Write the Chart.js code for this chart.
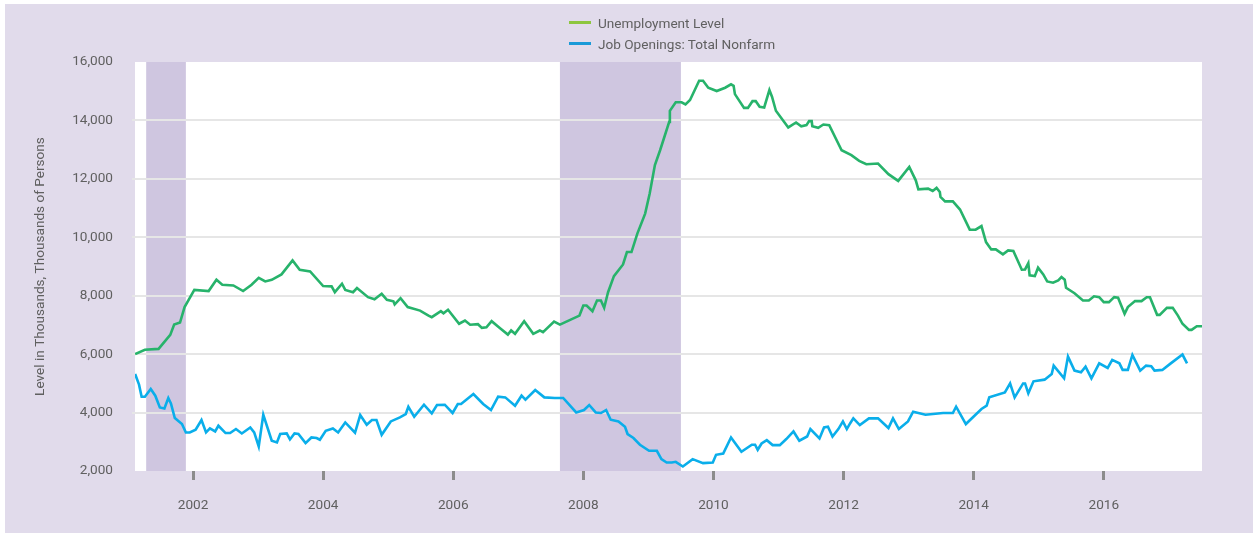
<!DOCTYPE html>
<html>
<head>
<meta charset="utf-8">
<script src="https://cdn.jsdelivr.net/npm/chart.js@4/dist/chart.umd.min.js"></script>
<style>
  body { margin: 0; background: #fff; font-family: Roboto, "Noto Sans", sans-serif; }
  #wrap { position: relative; width: 1253px; height: 535px; }
  #bg { position: absolute; left: 5px; top: 4px; width: 1248px; height: 529px; background: #e1dbeb; }
  #chart { position: absolute; left: 0; top: 0; }
  #legend { position: absolute; left: 569px; top: 12px; font-size: 13.6px; color: #606060; }
  #legend .item { height: 21px; display: flex; align-items: center; }
  #legend .swatch { width: 22px; height: 3px; margin-right: 7px; }
</style>
</head>
<body>
<div id="wrap">
  <div id="bg"></div>
  <canvas id="chart" width="1253" height="535"></canvas>
  <div id="legend"></div>
</div>
<script>
// dates are decimal years
var unempDates = [2001.11, 2001.26, 2001.47, 2001.65, 2001.71, 2001.80, 2001.87, 2002.02, 2002.24, 2002.36,
  2002.45, 2002.62, 2002.77, 2002.90, 2003.01, 2003.11, 2003.21, 2003.36, 2003.53, 2003.64,
  2003.80, 2004.00, 2004.13, 2004.18, 2004.29, 2004.34, 2004.46, 2004.52, 2004.69, 2004.79,
  2004.90, 2004.98, 2005.08, 2005.10, 2005.19, 2005.30, 2005.49, 2005.62, 2005.67, 2005.81,
  2005.85, 2005.92, 2006.09, 2006.18, 2006.26, 2006.38, 2006.44, 2006.51, 2006.59, 2006.72,
  2006.84, 2006.89, 2006.95, 2007.09, 2007.23, 2007.33, 2007.38, 2007.55, 2007.64, 2007.94,
  2008.00, 2008.05, 2008.14, 2008.21, 2008.27, 2008.32, 2008.38, 2008.47, 2008.61, 2008.67,
  2008.74, 2008.83, 2008.95, 2009.02, 2009.10, 2009.18, 2009.32, 2009.33, 2009.42, 2009.51,
  2009.57, 2009.64, 2009.78, 2009.84, 2009.92, 2010.05, 2010.18, 2010.27, 2010.31, 2010.33,
  2010.47, 2010.53, 2010.60, 2010.65, 2010.71, 2010.78, 2010.86, 2010.90, 2010.96, 2011.15,
  2011.27, 2011.35, 2011.43, 2011.47, 2011.51, 2011.52, 2011.61, 2011.69, 2011.78, 2011.97,
  2012.12, 2012.24, 2012.35, 2012.53, 2012.69, 2012.84, 2013.01, 2013.11, 2013.15, 2013.30,
  2013.37, 2013.43, 2013.48, 2013.49, 2013.56, 2013.68, 2013.79, 2013.94, 2014.03, 2014.12,
  2014.19, 2014.27, 2014.34, 2014.45, 2014.53, 2014.61, 2014.74, 2014.79, 2014.84, 2014.86,
  2014.94, 2014.99, 2015.07, 2015.13, 2015.22, 2015.30, 2015.35, 2015.40, 2015.42, 2015.55,
  2015.68, 2015.77, 2015.85, 2015.93, 2016.00, 2016.08, 2016.16, 2016.22, 2016.32, 2016.37,
  2016.48, 2016.58, 2016.66, 2016.71, 2016.82, 2016.86, 2016.97, 2017.06, 2017.14, 2017.21,
  2017.31, 2017.35, 2017.43, 2017.51];
var unempValues = [6000, 6150, 6180, 6660, 7010, 7080, 7610, 8200, 8160, 8545,
  8375, 8350, 8160, 8375, 8615, 8490, 8545, 8730, 9210, 8890,
  8830, 8330, 8320, 8120, 8410, 8200, 8120, 8260, 7950, 7880,
  8065, 7860, 7810, 7700, 7915, 7610, 7490, 7320, 7265, 7470,
  7400, 7520, 7040, 7150, 7005, 7025, 6900, 6920, 7130, 6890,
  6670, 6810, 6695, 7130, 6695, 6810, 6750, 7115, 7010, 7320,
  7665, 7665, 7470, 7835, 7835, 7585, 8120, 8670, 9070, 9495,
  9495, 10125, 10810, 11500, 12470, 12980, 13950, 14330, 14620, 14620,
  14550, 14700, 15360, 15360, 15120, 15005, 15120, 15235, 15185, 14900,
  14430, 14430, 14660, 14660, 14470, 14445, 15040, 14810, 14330, 13760,
  13930, 13800, 13840, 13975, 13975, 13800, 13745, 13860, 13840, 12980,
  12810, 12615, 12500, 12525, 12160, 11930, 12410, 11950, 11640, 11665,
  11585, 11690, 11550, 11380, 11230, 11230, 10950, 10260, 10260, 10385,
  9835, 9585, 9585, 9415, 9550, 9530, 8890, 8900, 9115, 8695,
  8670, 8960, 8730, 8490, 8445, 8525, 8640, 8545, 8270, 8085,
  7835, 7835, 7980, 7950, 7780, 7780, 7950, 7930, 7380, 7610,
  7815, 7815, 7950, 7950, 7345, 7345, 7585, 7585, 7320, 7040,
  6830, 6830, 6955, 6955];

var openDates = [2001.11, 2001.17, 2001.21, 2001.26, 2001.35, 2001.42, 2001.49, 2001.56, 2001.62, 2001.66,
  2001.72, 2001.83, 2001.89, 2001.95, 2002.04, 2002.13, 2002.20, 2002.26, 2002.34, 2002.39,
  2002.50, 2002.57, 2002.66, 2002.75, 2002.88, 2002.94, 2003.01, 2003.08, 2003.21, 2003.29,
  2003.34, 2003.44, 2003.49, 2003.56, 2003.62, 2003.73, 2003.82, 2003.90, 2003.95, 2004.04,
  2004.15, 2004.23, 2004.34, 2004.49, 2004.57, 2004.67, 2004.75, 2004.82, 2004.90, 2005.04,
  2005.18, 2005.27, 2005.31, 2005.40, 2005.55, 2005.67, 2005.75, 2005.87, 2005.99, 2006.07,
  2006.12, 2006.31, 2006.46, 2006.58, 2006.69, 2006.80, 2006.95, 2007.05, 2007.11, 2007.26,
  2007.40, 2007.56, 2007.69, 2007.89, 2008.01, 2008.09, 2008.19, 2008.27, 2008.35, 2008.42,
  2008.54, 2008.64, 2008.68, 2008.77, 2008.87, 2009.01, 2009.13, 2009.20, 2009.28, 2009.36,
  2009.42, 2009.53, 2009.68, 2009.84, 2009.99, 2010.04, 2010.15, 2010.27, 2010.43, 2010.59,
  2010.64, 2010.68, 2010.74, 2010.82, 2010.91, 2011.02, 2011.12, 2011.23, 2011.32, 2011.44,
  2011.49, 2011.63, 2011.70, 2011.76, 2011.83, 2011.92, 2011.99, 2012.05, 2012.10, 2012.15,
  2012.25, 2012.39, 2012.53, 2012.69, 2012.76, 2012.85, 2012.99, 2013.07, 2013.26, 2013.53,
  2013.68, 2013.73, 2013.88, 2014.12, 2014.20, 2014.24, 2014.48, 2014.56, 2014.63, 2014.76,
  2014.79, 2014.84, 2014.92, 2015.09, 2015.20, 2015.23, 2015.39, 2015.45, 2015.55, 2015.65,
  2015.72, 2015.81, 2015.93, 2016.06, 2016.13, 2016.24, 2016.29, 2016.37, 2016.44, 2016.56,
  2016.65, 2016.73, 2016.78, 2016.90, 2017.02, 2017.21, 2017.28];
var openValues = [5320, 4955, 4544, 4544, 4808, 4578, 4177, 4142, 4500, 4315,
  3813, 3607, 3320, 3320, 3412, 3745, 3320, 3457, 3354, 3549,
  3299, 3299, 3436, 3285, 3491, 3320, 2840, 3926, 3035, 2977,
  3265, 3285, 3080, 3285, 3265, 2956, 3148, 3128, 3069, 3378,
  3457, 3320, 3662, 3309, 3916, 3583, 3745, 3745, 3240, 3697,
  3834, 3950, 4200, 3858, 4269, 3971, 4259, 4269, 3985, 4293,
  4293, 4636, 4293, 4088, 4544, 4520, 4235, 4578, 4441, 4774,
  4520, 4500, 4500, 4005, 4088, 4259, 4005, 3985, 4088, 3755,
  3697, 3515, 3265, 3128, 2898, 2692, 2692, 2407, 2290, 2290,
  2314, 2153, 2407, 2270, 2290, 2554, 2599, 3148, 2657, 2898,
  2898, 2726, 2942, 3056, 2887, 2887, 3093, 3354, 3035, 3182,
  3436, 3114, 3491, 3515, 3182, 3436, 3697, 3436, 3628, 3800,
  3573, 3800, 3800, 3470, 3800, 3436, 3697, 4029, 3926, 3985,
  3985, 4200, 3607, 4122, 4235, 4520, 4691, 5000, 4520, 4997,
  4997, 4657, 5070, 5127, 5320, 5607, 5172, 5916, 5436, 5380,
  5573, 5172, 5686, 5529, 5803, 5686, 5460, 5460, 5974, 5436,
  5607, 5584, 5436, 5460, 5666, 5985, 5686];

var recessionStarts = [2001.28, 2007.64];
var recessionEnds = [2001.89, 2009.50];

var xTickYears = [2002, 2004, 2006, 2008, 2010, 2012, 2014, 2016];
var yTickValues = [2000, 4000, 6000, 8000, 10000, 12000, 14000, 16000];

var seriesNames = ['Unemployment Level', 'Job Openings: Total Nonfarm'];

function toPoints(dates, values) {
  return dates.map(function (d, i) { return { x: d, y: values[i] }; });
}

var textColor = '#606060';
var tickFont = { family: 'Roboto', size: 13.6 };

// white plot area + recession shading under the grid
const backdrop = {
  id: 'backdrop',
  beforeDraw(chart) {
    const { ctx, chartArea: a, scales: { x } } = chart;
    ctx.save();
    ctx.fillStyle = '#ffffff';
    ctx.fillRect(a.left, a.top, a.right - a.left, a.bottom - a.top);
    ctx.fillStyle = '#cfc6e0';
    recessionStarts.forEach(function (s, i) {
      const x0 = x.getPixelForValue(s);
      const x1 = x.getPixelForValue(recessionEnds[i]);
      ctx.fillRect(x0, a.top, x1 - x0, a.bottom - a.top);
    });
    ctx.restore();
  }
};

const chart = new Chart(document.getElementById('chart').getContext('2d'), {
  type: 'line',
  data: {
    datasets: [
      {
        label: seriesNames[0],
        data: toPoints(unempDates, unempValues),
        borderColor: '#27b36b',
        legendColor: '#8dc63f',
        borderWidth: 2.6,
        pointRadius: 0,
        tension: 0
      },
      {
        label: seriesNames[1],
        data: toPoints(openDates, openValues),
        borderColor: '#0aaeea',
        legendColor: '#1a9ad8',
        borderWidth: 2.6,
        pointRadius: 0,
        tension: 0
      }
    ]
  },
  options: {
    responsive: false,
    animation: false,
    devicePixelRatio: 1,
    layout: { padding: { top: 62, right: 51, left: 0, bottom: 0 } },
    plugins: {
      legend: { display: false },
      tooltip: { enabled: false }
    },
    scales: {
      x: {
        type: 'linear',
        min: 2001.108,
        max: 2017.51,
        afterFit: function (s) { s.height = 64; },
        afterBuildTicks: function (s) { s.ticks = xTickYears.map(function (v) { return { value: v }; }); },
        border: { display: false },
        grid: { drawOnChartArea: false, drawTicks: true, tickLength: 9, color: '#8c8c8c', lineWidth: 3 },
        ticks: {
          padding: 17,
          color: textColor,
          font: tickFont,
          maxRotation: 0,
          callback: function (v) { return String(v); }
        }
      },
      y: {
        min: 2000,
        max: 16000,
        afterFit: function (s) { s.width = 135; },
        afterBuildTicks: function (s) { s.ticks = yTickValues.map(function (v) { return { value: v }; }); },
        border: { display: false },
        grid: {
          color: function (c) {
            return (c.tick && (c.tick.value === 2000 || c.tick.value === 16000)) ? 'rgba(0,0,0,0)' : '#e6e6e6';
          },
          lineWidth: 2,
          drawTicks: true,
          tickLength: 3
        },
        ticks: {
          padding: 19,
          color: textColor,
          font: tickFont,
          callback: function (v) { return v.toLocaleString('en-US'); }
        },
        title: {
          display: true,
          text: 'Level in Thousands, Thousands of Persons',
          color: textColor,
          font: { family: 'Roboto', size: 13.6 },
          padding: { top: 32, bottom: 0 }
        }
      }
    }
  },
  plugins: [backdrop]
});

// stacked legend above the plot
var legend = document.getElementById('legend');
chart.data.datasets.forEach(function (ds) {
  var item = document.createElement('div');
  item.className = 'item';
  var sw = document.createElement('span');
  sw.className = 'swatch';
  sw.style.background = ds.legendColor;
  var label = document.createElement('span');
  label.textContent = ds.label;
  item.appendChild(sw);
  item.appendChild(label);
  legend.appendChild(item);
});
</script>
</body>
</html>
